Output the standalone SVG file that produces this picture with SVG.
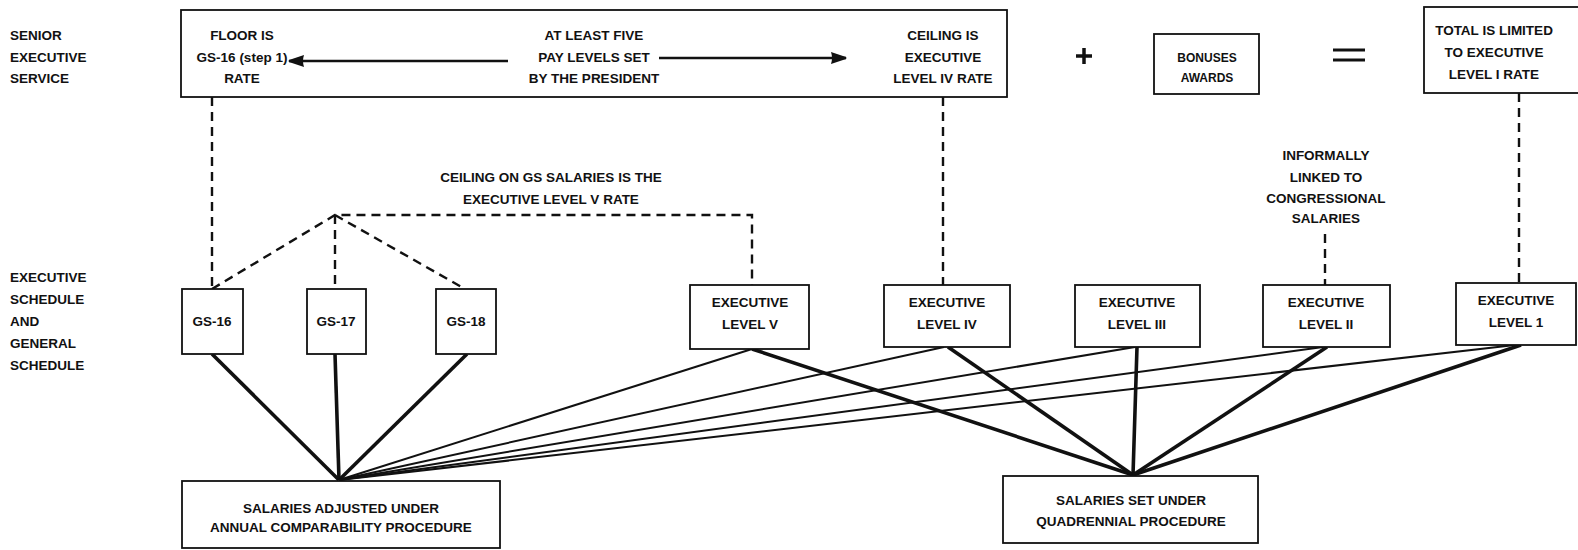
<svg xmlns="http://www.w3.org/2000/svg" width="1578" height="550" viewBox="0 0 1578 550">
<style>
text{font-family:"Liberation Sans",Arial,sans-serif;font-weight:bold;font-size:13.5px;fill:#111;}
.c{text-anchor:middle;}
.box{fill:#fff;stroke:#111;stroke-width:1.8;}
.dash{fill:none;stroke:#111;stroke-width:2.4;stroke-dasharray:9 6;}
.thick{stroke:#111;stroke-width:3.6;fill:none;}
.thin{stroke:#111;stroke-width:2;fill:none;}
.arr{stroke:#111;stroke-width:2.5;fill:none;}
</style>
<defs>
<marker id="ah" markerWidth="16" markerHeight="12" refX="15" refY="6" orient="auto" markerUnits="userSpaceOnUse" viewBox="0 0 16 12">
<path d="M0,0 L15,5 Q16,6 15,7 L0,12 Q2,6 0,0 z" fill="#111"/>
</marker>
</defs>
<rect width="1578" height="550" fill="#fff"/>

<g id="row-labels">
<text x="10" y="40">SENIOR</text>
<text x="10" y="62">EXECUTIVE</text>
<text x="10" y="83">SERVICE</text>
<text x="10" y="282">EXECUTIVE</text>
<text x="10" y="304">SCHEDULE</text>
<text x="10" y="326">AND</text>
<text x="10" y="348">GENERAL</text>
<text x="10" y="370">SCHEDULE</text>
</g>

<g id="connectors">
<polyline class="dash" points="212,97 212,289"/>
<polyline class="dash" points="943,97 943,285"/>
<polyline class="dash" points="1519,93 1519,283"/>
<polyline class="dash" points="1325,234 1325,285"/>
<polyline class="dash" points="212,289 335,215 752,215 752,285"/>
<polyline class="dash" points="335,215 335,289"/>
<polyline class="dash" points="335,215 465,289"/>
<line class="thick" x1="212" y1="354" x2="339" y2="480"/>
<line class="thick" x1="335" y1="354" x2="339" y2="480"/>
<line class="thick" x1="467" y1="354" x2="339" y2="480"/>
<line class="thin" x1="752" y1="349" x2="339" y2="480"/>
<line class="thin" x1="944" y1="347" x2="339" y2="480"/>
<line class="thin" x1="1135" y1="347" x2="339" y2="480"/>
<line class="thin" x1="1323" y1="347" x2="339" y2="480"/>
<line class="thin" x1="1515" y1="345" x2="339" y2="480"/>
<line class="thick" x1="752" y1="349" x2="1133" y2="475"/>
<line class="thick" x1="948" y1="347" x2="1133" y2="475"/>
<line class="thick" x1="1137" y1="347" x2="1133" y2="475"/>
<line class="thick" x1="1327" y1="347" x2="1133" y2="475"/>
<line class="thick" x1="1521" y1="345" x2="1133" y2="475"/>
<line class="arr" x1="508" y1="61" x2="289" y2="61" marker-end="url(#ah)"/>
<line class="arr" x1="659" y1="58" x2="846" y2="58" marker-end="url(#ah)"/>
</g>

<g id="ses-box">
<rect class="box" x="181" y="10" width="826" height="87" style="fill:none"/>
<text class="c" x="242" y="40">FLOOR IS</text>
<text class="c" x="242" y="62">GS-16 (step 1)</text>
<text class="c" x="242" y="83">RATE</text>
<text class="c" x="594" y="40">AT LEAST FIVE</text>
<text class="c" x="594" y="62">PAY LEVELS SET</text>
<text class="c" x="594" y="83">BY THE PRESIDENT</text>
<text class="c" x="943" y="40">CEILING IS</text>
<text class="c" x="943" y="62">EXECUTIVE</text>
<text class="c" x="943" y="83">LEVEL IV RATE</text>
</g>

<g id="plus">
<line x1="1076" y1="56" x2="1092" y2="56" stroke="#111" stroke-width="3.5"/>
<line x1="1084" y1="48" x2="1084" y2="64" stroke="#111" stroke-width="3.5"/>
</g>
<g id="bonuses">
<rect class="box" x="1154" y="34" width="105" height="60"/>
<text class="c" x="1207" y="62" style="font-size:12px">BONUSES</text>
<text class="c" x="1207" y="82" style="font-size:12px">AWARDS</text>
</g>
<g id="equals">
<line x1="1333" y1="50" x2="1365" y2="50" stroke="#111" stroke-width="3"/>
<line x1="1333" y1="60" x2="1365" y2="60" stroke="#111" stroke-width="3"/>
</g>
<g id="total">
<rect class="box" x="1424" y="7" width="170" height="86"/>
<text class="c" x="1494" y="35">TOTAL IS LIMITED</text>
<text class="c" x="1494" y="57">TO EXECUTIVE</text>
<text class="c" x="1494" y="79">LEVEL I RATE</text>
</g>

<g id="ceiling-label">
<text class="c" x="551" y="182">CEILING ON GS SALARIES IS THE</text>
<text class="c" x="551" y="204">EXECUTIVE LEVEL V RATE</text>
</g>
<g id="informal-label">
<text class="c" x="1326" y="160">INFORMALLY</text>
<text class="c" x="1326" y="182">LINKED TO</text>
<text class="c" x="1326" y="203">CONGRESSIONAL</text>
<text class="c" x="1326" y="223">SALARIES</text>
</g>

<g id="gs16"><rect class="box" x="182" y="289" width="61" height="65"/><text class="c" x="212" y="326">GS-16</text></g>
<g id="gs17"><rect class="box" x="307" y="289" width="59" height="65"/><text class="c" x="336" y="326">GS-17</text></g>
<g id="gs18"><rect class="box" x="436" y="289" width="60" height="65"/><text class="c" x="466" y="326">GS-18</text></g>

<g id="exec5"><rect class="box" x="690" y="285" width="119" height="64"/><text class="c" x="750" y="307">EXECUTIVE</text><text class="c" x="750" y="329">LEVEL V</text></g>
<g id="exec4"><rect class="box" x="884" y="285" width="126" height="62"/><text class="c" x="947" y="307">EXECUTIVE</text><text class="c" x="947" y="329">LEVEL IV</text></g>
<g id="exec3"><rect class="box" x="1075" y="285" width="125" height="62"/><text class="c" x="1137" y="307">EXECUTIVE</text><text class="c" x="1137" y="329">LEVEL III</text></g>
<g id="exec2"><rect class="box" x="1263" y="285" width="127" height="62"/><text class="c" x="1326" y="307">EXECUTIVE</text><text class="c" x="1326" y="329">LEVEL II</text></g>
<g id="exec1"><rect class="box" x="1456" y="283" width="120" height="62"/><text class="c" x="1516" y="305">EXECUTIVE</text><text class="c" x="1516" y="327">LEVEL 1</text></g>

<g id="annual"><rect class="box" x="182" y="481" width="318" height="67"/><text class="c" x="341" y="513">SALARIES ADJUSTED UNDER</text><text class="c" x="341" y="532">ANNUAL COMPARABILITY PROCEDURE</text></g>
<g id="quad"><rect class="box" x="1003" y="476" width="255" height="67"/><text class="c" x="1131" y="505">SALARIES SET UNDER</text><text class="c" x="1131" y="526">QUADRENNIAL PROCEDURE</text></g>
</svg>
